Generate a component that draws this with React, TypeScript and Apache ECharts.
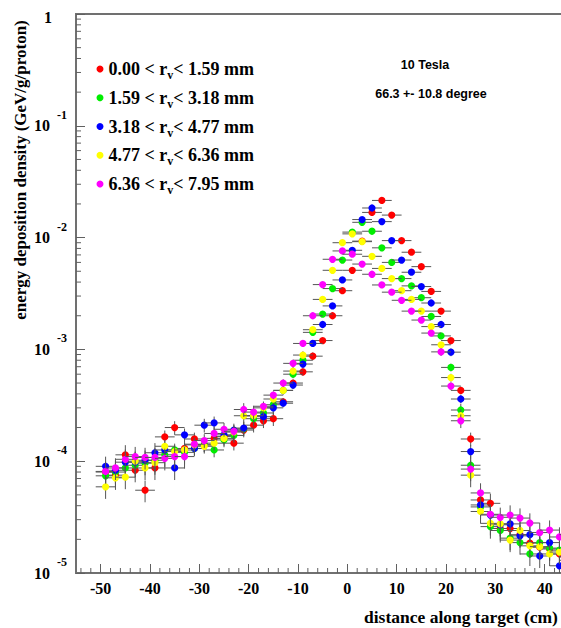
import React, { useEffect, useRef } from "react";
import * as echarts from "echarts";

const SERIF = '"Liberation Serif", "DejaVu Serif", serif';
const SANS = '"Liberation Sans", Arial, sans-serif';

const xPos = [-49, -47, -45, -43, -41, -39, -37, -35, -33, -31, -29, -27, -25, -23, -21, -19, -17, -15, -13, -11, -9, -7, -5, -3, -1,
  1, 3, 5, 7, 9, 11, 13, 15, 17, 19, 21, 23, 25, 27, 29, 31, 33, 35, 37, 39, 41, 43, 45];

const redVals = [8.0e-5, 7.5e-5, 1.14e-4, 8.3e-5, 5.5e-5, 8.7e-5, 1.65e-4, 2.0e-4, 1.3e-4, 1.58e-4, 1.4e-4, 1.6e-4, 1.66e-4, 1.45e-4, 1.9e-4, 2.1e-4, 2.3e-4, 2.4e-4, 3.4e-4, 5.0e-4, 6.3e-4, 8.7e-4, 1.2e-3, 2.0e-3, 3.35e-3,
  5.1e-3, 9.3e-3, 1.68e-2, 2.15e-2, 1.59e-2, 9.4e-3, 7.4e-3, 5.5e-3, 3.3e-3, 2.2e-3, 1.2e-3, 4.3e-4, 1.58e-4, 4.5e-5, 4.2e-5, 2.5e-5, 2.5e-5, 2.2e-5, 1.85e-5, 1.7e-5, 1.64e-5, 1.48e-5, 1.4e-5];

const greenVals = [7.4e-5, 8.0e-5, 8.7e-5, 9.2e-5, 9.6e-5, 1.02e-4, 1.14e-4, 1.26e-4, 1.2e-4, 1.3e-4, 1.4e-4, 1.26e-4, 1.55e-4, 1.7e-4, 1.95e-4, 2.4e-4, 2.7e-4, 3.2e-4, 4.3e-4, 6.0e-4, 8.0e-4, 1.42e-3, 2.07e-3, 3.5e-3, 6.3e-3,
  1.12e-2, 1.37e-2, 1.14e-2, 8.1e-3, 6.0e-3, 4.3e-3, 3.7e-3, 2.9e-3, 1.97e-3, 1.32e-3, 6.9e-4, 2.87e-4, 9.2e-5, 3.9e-5, 2.6e-5, 2.4e-5, 2.05e-5, 1.87e-5, 1.48e-5, 1.87e-5, 1.67e-5, 1.6e-5, 1.54e-5];

const blueVals = [9.0e-5, 8.3e-5, 9.8e-5, 9.8e-5, 1.02e-4, 1.19e-4, 1.26e-4, 8.7e-5, 1.72e-4, 1.3e-4, 2.1e-4, 2.2e-4, 1.72e-4, 1.9e-4, 1.98e-4, 2.55e-4, 2.5e-4, 3.0e-4, 3.3e-4, 4.8e-4, 7.4e-4, 1.13e-3, 1.67e-3, 2.45e-3, 4.18e-3,
  7.7e-3, 1.45e-2, 1.84e-2, 1.39e-2, 9.4e-3, 6.3e-3, 4.9e-3, 3.65e-3, 2.6e-3, 1.67e-3, 9.45e-4, 3.6e-4, 1.22e-4, 4.06e-5, 3.3e-5, 2.7e-5, 2.75e-5, 2.15e-5, 2.2e-5, 1.42e-5, 1.87e-5, 1.16e-5, 1.3e-5];

const yellowVals = [5.9e-5, 7.1e-5, 7.2e-5, 1.0e-4, 8.7e-5, 9.7e-5, 1.36e-4, 1.22e-4, 1.26e-4, 1.4e-4, 1.36e-4, 1.45e-4, 1.6e-4, 1.82e-4, 2.55e-4, 2.55e-4, 3.0e-4, 3.6e-4, 4.3e-4, 6.4e-4, 8.9e-4, 1.5e-3, 2.8e-3, 5.1e-3, 9.0e-3,
  1.08e-2, 9.2e-3, 6.8e-3, 5.3e-3, 4.3e-3, 3.35e-3, 2.8e-3, 2.2e-3, 1.6e-3, 1.1e-3, 5.6e-4, 2.55e-4, 7.5e-5, 3.55e-5, 2.78e-5, 2.75e-5, 1.97e-5, 2.4e-5, 1.75e-5, 1.72e-5, 1.48e-5, 1.54e-5, 1.4e-5];

const magentaVals = [8.1e-5, 8.7e-5, 1.04e-4, 1.1e-4, 1.08e-4, 1.08e-4, 1.06e-4, 1.1e-4, 1.1e-4, 1.42e-4, 1.53e-4, 1.77e-4, 1.93e-4, 1.85e-4, 2.9e-4, 2.75e-4, 3.1e-4, 3.9e-4, 5.0e-4, 7.5e-4, 1.13e-3, 2.0e-3, 3.8e-3, 6.4e-3, 7.6e-3,
  7.1e-3, 5.8e-3, 4.7e-3, 3.77e-3, 3.25e-3, 2.75e-3, 2.2e-3, 1.83e-3, 1.4e-3, 9.5e-4, 4.7e-4, 2.3e-4, 8.5e-5, 5.2e-5, 3.35e-5, 3.15e-5, 3.3e-5, 3.1e-5, 2.8e-5, 2.3e-5, 2.42e-5, 2.1e-5, 2.2e-5];

const seriesNames = ["0.00 < rv< 1.59 mm", "1.59 < rv< 3.18 mm", "3.18 < rv< 4.77 mm", "4.77 < rv< 6.36 mm", "6.36 < rv< 7.95 mm"];
const legendLo = ["0.00", "1.59", "3.18", "4.77", "6.36"];
const legendHi = ["1.59", "3.18", "4.77", "6.36", "7.95"];
const seriesColors = ["#ff0000", "#00ee00", "#0000ff", "#ffff00", "#ff00ff"];
const seriesValues = [redVals, greenVals, blueVals, yellowVals, magentaVals];

const xTickLabels = [-50, -40, -30, -20, -10, 0, 10, 20, 30, 40];
const yDecades = [1e-5, 1e-4, 1e-3, 1e-2, 1e-1];
const yMinorMult = [2, 3, 4, 5, 6, 7, 8, 9];

const X_MIN = -55;
const X_MAX = 50;
const Y_MIN = 1e-5;
const Y_MAX = 1;
const X_HALF_BIN = 2;

function relErr(v: number) {
  if (v > 1e-3) return 0.04;
  if (v > 3e-4) return 0.08;
  if (v > 1.2e-4) return 0.14;
  return 0.22;
}

export default function App() {
  const ref = useRef<HTMLDivElement>(null);
  useEffect(() => {
    if (!ref.current) return;
    const chart = echarts.init(ref.current, undefined, { renderer: "svg" });

    const yMinor: number[][] = [];
    yDecades.forEach((d) => yMinorMult.forEach((m) => yMinor.push([X_MIN, d * m])));
    const xMinor: number[][] = [];
    for (let v = -54; v < X_MAX; v += 2) if (v % 10 !== 0) xMinor.push([v, Y_MIN]);

    const dataSeries = seriesValues.map((vals, si) => ({
      type: "custom",
      name: seriesNames[si],
      coordinateSystem: "cartesian2d",
      itemStyle: { color: seriesColors[si] },
      clip: true,
      data: vals.map((v, i) => [xPos[i], v]),
      encode: { x: 0, y: 1 },
      renderItem: (params: any, api: any) => {
        const x = api.value(0);
        const y = api.value(1);
        const e = relErr(y);
        const c = api.coord([x, y]);
        const l = api.coord([x - X_HALF_BIN, y]);
        const r = api.coord([x + X_HALF_BIN, y]);
        const t = api.coord([x, y * (1 + e)]);
        const b = api.coord([x, y * (1 - e)]);
        return {
          type: "group",
          children: [
            { type: "line", shape: { x1: l[0], y1: c[1], x2: r[0], y2: c[1] }, style: { stroke: "#555", lineWidth: 1 } },
            { type: "line", shape: { x1: c[0], y1: t[1], x2: c[0], y2: b[1] }, style: { stroke: "#555", lineWidth: 1 } },
            { type: "circle", shape: { cx: c[0], cy: c[1], r: 3.6 }, style: { fill: seriesColors[si], stroke: null } },
          ],
        };
      },
    }));

    const option: any = {
      animation: false,
      backgroundColor: "#ffffff",
      grid: { left: 76, top: 14, right: 26, bottom: 55, show: true, borderColor: "#707070", borderWidth: 2 },
      xAxis: {
        type: "value",
        min: X_MIN,
        max: X_MAX,
        splitNumber: 10,
        axisLine: { show: true, onZero: false, lineStyle: { color: "#707070", width: 2 } },
        axisTick: { show: true, inside: true, length: 9, lineStyle: { color: "#606060", width: 1 } },
        splitLine: { show: false },
        axisLabel: {
          showMinLabel: false,
          margin: 7,
          color: "#000",
          fontFamily: SERIF,
          fontWeight: "bold",
          fontSize: 16,
          formatter: (v: number) => (xTickLabels.includes(v) ? String(v) : ""),
        },
      },
      yAxis: {
        type: "log",
        logBase: 10,
        min: Y_MIN,
        max: Y_MAX,
        splitNumber: 5,
        axisLine: { show: true, onZero: false, lineStyle: { color: "#707070", width: 2 } },
        axisTick: { show: true, inside: true, length: 9, lineStyle: { color: "#606060", width: 1 } },
        splitLine: { show: false },
        axisLabel: {
          margin: 9,
          formatter: (v: number) => {
            const e = Math.round(Math.log10(v));
            return e === 0 ? "{one|1}" : `{b|10}{s|${e}}`;
          },
          rich: {
            b: { fontFamily: SERIF, fontWeight: "bold", fontSize: 16, lineHeight: 34, color: "#000" },
            s: { fontFamily: SERIF, fontWeight: "bold", fontSize: 12, lineHeight: 12, verticalAlign: "top", padding: [0, 0, 0, 7], color: "#000" },
            one: { fontFamily: SERIF, fontWeight: "bold", fontSize: 16, padding: [6, 15, 0, 0], color: "#000" },
          },
        },
      },
      legend: {
        show: true,
        orient: "vertical",
        left: 96.5,
        top: 60,
        padding: 0,
        itemGap: 7.75,
        itemWidth: 7,
        itemHeight: 7,
        icon: "circle",
        data: seriesNames,
        formatter: (name: string) => {
          const i = seriesNames.indexOf(name);
          return `{a|${legendLo[i]} < r}{v|v}{a|< ${legendHi[i]} mm}`;
        },
        textStyle: {
          rich: {
            a: { fontFamily: SERIF, fontWeight: "bold", fontSize: 18, lineHeight: 24, color: "#000" },
            v: { fontFamily: SERIF, fontWeight: "bold", fontSize: 12, lineHeight: 12, verticalAlign: "bottom", color: "#000" },
          },
        },
      },
      graphic: [
        {
          type: "text",
          x: 425,
          y: 65,
          style: { text: "10 Tesla", font: `bold 12.5px ${SANS}`, fill: "#000", align: "center", verticalAlign: "middle" },
        },
        {
          type: "text",
          x: 431,
          y: 94,
          style: { text: "66.3 +- 10.8 degree", font: `bold 12.5px ${SANS}`, fill: "#000", align: "center", verticalAlign: "middle" },
        },
        {
          type: "text",
          x: 20,
          y: 170,
          rotation: Math.PI / 2,
          style: { text: "energy deposition density (GeV/g/proton)", font: `bold 17px ${SERIF}`, fill: "#000", align: "center", verticalAlign: "middle" },
        },
        {
          type: "text",
          x: 364,
          y: 617,
          style: { text: "distance along target (cm)", font: `bold 17.5px ${SERIF}`, fill: "#000", align: "left", verticalAlign: "middle" },
        },
      ],
      series: [
        {
          type: "custom",
          name: "yMinorTicks",
          coordinateSystem: "cartesian2d",
          silent: true,
          data: yMinor,
          encode: { x: 0, y: 1 },
          renderItem: (params: any, api: any) => {
            const p = api.coord([api.value(0), api.value(1)]);
            return { type: "line", shape: { x1: p[0], y1: p[1], x2: p[0] + 5, y2: p[1] }, style: { stroke: "#606060", lineWidth: 1 } };
          },
        },
        {
          type: "custom",
          name: "xMinorTicks",
          coordinateSystem: "cartesian2d",
          silent: true,
          data: xMinor,
          encode: { x: 0, y: 1 },
          renderItem: (params: any, api: any) => {
            const p = api.coord([api.value(0), api.value(1)]);
            return { type: "line", shape: { x1: p[0], y1: p[1], x2: p[0], y2: p[1] - 5 }, style: { stroke: "#606060", lineWidth: 1 } };
          },
        },
        ...dataSeries,
      ],
    };
    chart.setOption(option);
    return () => chart.dispose();
  }, []);

  return (
    <div style={{ position: "fixed", left: 0, top: 0, width: 561, height: 628, overflow: "hidden", background: "#fff" }}>
      <div ref={ref} style={{ width: 620, height: 628 }} />
    </div>
  );
}
